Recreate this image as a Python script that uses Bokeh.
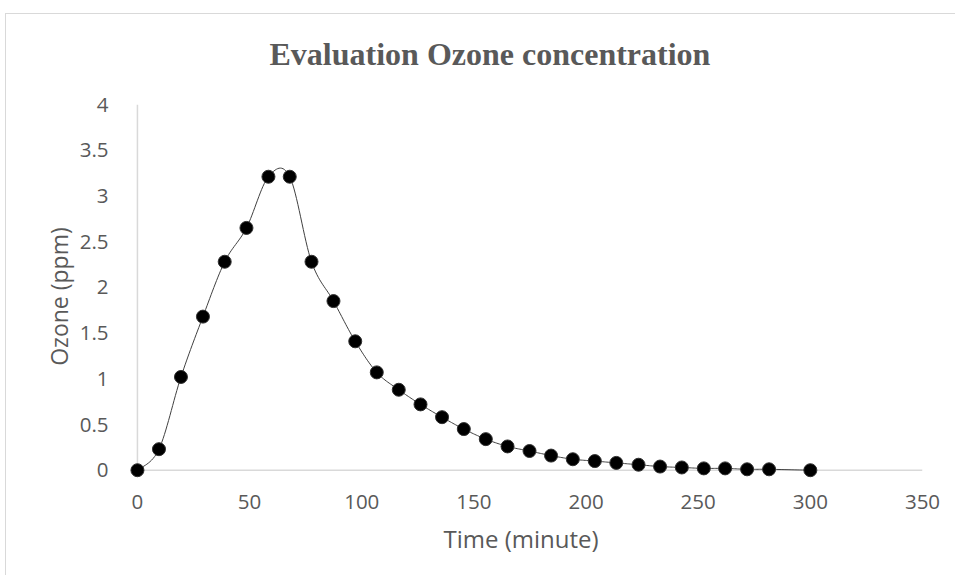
from bokeh.plotting import figure
from bokeh.models import Range1d, FixedTicker
from bokeh.embed import file_html
from bokeh.resources import INLINE

# ---- data ----
time_min = [0, 9.6, 19.4, 29.2, 38.9, 48.6, 58.4, 67.9, 77.6, 87.4, 97.1, 106.7,
            116.5, 126.2, 135.8, 145.5, 155.3, 165.0, 174.8, 184.4, 194.1, 203.9,
            213.5, 223.4, 233.0, 242.7, 252.5, 262.0, 271.8, 281.6, 300]
ozone_ppm = [0, 0.23, 1.02, 1.68, 2.28, 2.65, 3.21, 3.21, 2.28, 1.85, 1.41, 1.07,
             0.88, 0.72, 0.58, 0.45, 0.34, 0.26, 0.21, 0.16, 0.12, 0.10,
             0.08, 0.06, 0.04, 0.03, 0.02, 0.02, 0.01, 0.01, 0.0]
x_ticks = [0, 50, 100, 150, 200, 250, 300, 350]
y_ticks = [0, 0.5, 1, 1.5, 2, 2.5, 3, 3.5, 4]
y_tick_labels = ["0", "0.5", "1", "1.5", "2", "2.5", "3", "3.5", "4"]
x_min, x_max = 0, 350
y_min, y_max = 0, 4

title_text = "Evaluation Ozone concentration"
x_title = "Time (minute)"
y_title = "Ozone (ppm)"


# smoothed line through the points (Catmull-Rom, like a spreadsheet "smooth line")
def smooth(xs, ys, n=16):
    px, py = [], []
    m = len(xs)
    for i in range(m - 1):
        x0, y0 = (xs[i - 1], ys[i - 1]) if i > 0 else (xs[i], ys[i])
        x1, y1 = xs[i], ys[i]
        x2, y2 = xs[i + 1], ys[i + 1]
        x3, y3 = (xs[i + 2], ys[i + 2]) if i + 2 < m else (xs[i + 1], ys[i + 1])
        c1x, c1y = x1 + (x2 - x0) / 6, y1 + (y2 - y0) / 6
        c2x, c2y = x2 - (x3 - x1) / 6, y2 - (y3 - y1) / 6
        for k in range(n):
            t = k / n
            a, b, c, d = (1 - t) ** 3, 3 * t * (1 - t) ** 2, 3 * t * t * (1 - t), t ** 3
            px.append(a * x1 + b * c1x + c * c2x + d * x2)
            py.append(a * y1 + b * c1y + c * c2y + d * y2)
    px.append(xs[-1])
    py.append(ys[-1])
    return px, py


GRAY_TXT = "#595959"
GRAY_LINE = "#d9d9d9"
FONT = "Open Sans"

# chart-area border drawn as CSS background lines behind a transparent canvas
border_css = {
    "background-color": "white",
    "background-image": "linear-gradient(#d9d9d9, #d9d9d9), linear-gradient(#d9d9d9, #d9d9d9)",
    "background-size": "100% 1px, 1px 100%",
    "background-position": "5px 13px, 5px 13px",
    "background-repeat": "no-repeat",
}

p = figure(width=955, height=575, output_backend="svg", toolbar_location=None,
           x_range=Range1d(-8, x_max), y_range=Range1d(-0.2, y_max),
           min_border_left=119, min_border_right=33, min_border_top=104,
           min_border_bottom=87, styles=border_css)
p.outline_line_color = None
p.border_fill_color = None
p.background_fill_color = None
p.grid.visible = False

p.title.text = title_text
p.title.text_font = "Liberation Serif"
p.title.text_font_size = "32px"
p.title.text_font_style = "bold"
p.title.text_color = GRAY_TXT
p.title.align = "left"
p.title.offset = 150
p.title.standoff = 66

for ax in (p.xaxis[0], p.yaxis[0]):
    ax.axis_line_color = None
    ax.major_tick_line_color = None
    ax.minor_tick_line_color = None
    ax.major_label_text_font = FONT
    ax.major_label_text_font_size = "20.5px"
    ax.major_label_text_color = GRAY_TXT
    ax.axis_label_text_font = FONT
    ax.axis_label_text_font_style = "normal"
    ax.axis_label_text_color = GRAY_TXT

p.xaxis.axis_label_text_font_size = "24px"
p.yaxis.axis_label_text_font_size = "23px"
p.xaxis.ticker = FixedTicker(ticks=x_ticks)
p.yaxis.ticker = FixedTicker(ticks=y_ticks)
p.yaxis.major_label_overrides = {v: s for v, s in zip(y_ticks, y_tick_labels)}
p.xaxis.axis_label = x_title
p.yaxis.axis_label = y_title
p.xaxis.major_label_standoff = 0
p.yaxis.major_label_standoff = 5
p.xaxis.axis_label_standoff = 10
p.yaxis.axis_label_standoff = 2

# axis lines at the data origin
p.segment(x0=[x_min], y0=[y_min], x1=[x_max], y1=[y_min], line_color=GRAY_LINE, line_width=1.5)
p.segment(x0=[x_min], y0=[y_min], x1=[x_min], y1=[y_max], line_color=GRAY_LINE, line_width=1.5)

sx, sy = smooth(time_min, ozone_ppm)
p.line(sx, sy, line_color="#404040", line_width=1)
p.scatter(time_min, ozone_ppm, size=13, fill_color="black", line_color="#303030",
          line_width=1)

open("out.html", "w").write(file_html(p, INLINE))
